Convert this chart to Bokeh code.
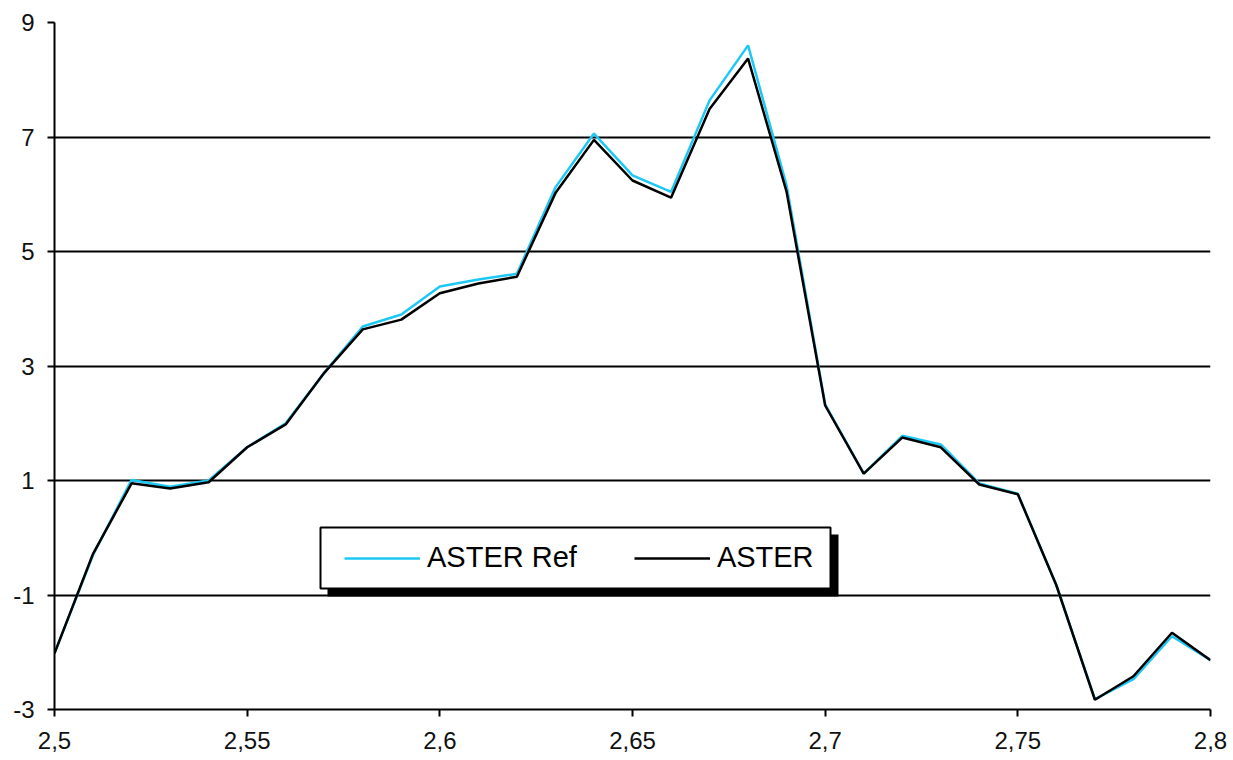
from bokeh.plotting import figure
from bokeh.models import Range1d, FixedTicker, Legend, LegendItem, BoxAnnotation
from bokeh.embed import file_html
from bokeh.resources import INLINE

wavelength = [2.50, 2.51, 2.52, 2.53, 2.54, 2.55, 2.56, 2.57, 2.58, 2.59, 2.60,
              2.61, 2.62, 2.63, 2.64, 2.65, 2.66, 2.67, 2.68, 2.69, 2.70,
              2.71, 2.72, 2.73, 2.74, 2.75, 2.76, 2.77, 2.78, 2.79, 2.80]
aster_ref = [-2.02, -0.30, 1.01, 0.89, 1.00, 1.58, 2.00, 2.88, 3.69, 3.90, 4.39,
             4.51, 4.61, 6.12, 7.06, 6.33, 6.04, 7.64, 8.60, 6.15, 2.33,
             1.12, 1.78, 1.63, 0.95, 0.77, -0.83, -2.82, -2.47, -1.72, -2.14]
aster = [-2.02, -0.28, 0.95, 0.86, 0.97, 1.58, 1.98, 2.88, 3.64, 3.81, 4.27,
         4.44, 4.56, 6.02, 6.95, 6.24, 5.94, 7.49, 8.37, 6.04, 2.31,
         1.12, 1.75, 1.58, 0.93, 0.76, -0.83, -2.83, -2.42, -1.66, -2.14]

x_ticks = [2.5, 2.55, 2.6, 2.65, 2.7, 2.75, 2.8]
x_tick_labels = ["2,5", "2,55", "2,6", "2,65", "2,7", "2,75", "2,8"]
y_ticks = [-3, -1, 1, 3, 5, 7, 9]
y_tick_labels = ["-3", "-1", "1", "3", "5", "7", "9"]
series_names = ["ASTER Ref", "ASTER"]
series_colors = ["#1EC8F5", "#000000"]

p = figure(frame_width=1156, frame_height=687, output_backend="svg",
           toolbar_location=None,
           x_range=Range1d(2.5, 2.8), y_range=Range1d(-3, 9),
           min_border_left=54, min_border_top=22, min_border_right=20,
           min_border_bottom=51)
p.outline_line_color = None
p.background_fill_color = "white"
p.border_fill_color = "white"

r_ref = p.line(wavelength, aster_ref, line_color=series_colors[0], line_width=2.5)
r_ast = p.line(wavelength, aster, line_color=series_colors[1], line_width=2.5)

p.xaxis.ticker = FixedTicker(ticks=x_ticks)
p.yaxis.ticker = FixedTicker(ticks=y_ticks)
p.xaxis.major_label_overrides = dict(zip(x_ticks, x_tick_labels))
p.yaxis.major_label_overrides = dict(zip(y_ticks, y_tick_labels))
for ax in (p.xaxis[0], p.yaxis[0]):
    ax.axis_line_color = "black"
    ax.axis_line_width = 2
    ax.major_tick_line_color = "black"
    ax.major_tick_line_width = 2
    ax.major_tick_out = 7
    ax.major_tick_in = 0
    ax.minor_tick_line_color = None
    ax.major_label_text_font = "Liberation Sans"
    ax.major_label_text_font_size = "24px"
    ax.major_label_text_color = "#111111"
p.xaxis.major_label_standoff = 15
p.yaxis.major_label_standoff = 13

p.xgrid.grid_line_color = None
p.ygrid.grid_line_color = "black"
p.ygrid.grid_line_width = 2

# legend frame: drop shadow + white box with black border
shadow = BoxAnnotation(left=273, right=784, bottom=113, top=175,
                       left_units="screen", right_units="screen",
                       top_units="screen", bottom_units="screen",
                       fill_color="black", fill_alpha=1.0, line_color=None,
                       level="annotation")
box = BoxAnnotation(left=266, right=776, bottom=121, top=182,
                    left_units="screen", right_units="screen",
                    top_units="screen", bottom_units="screen",
                    fill_color="white", fill_alpha=1.0, line_color="black",
                    line_width=2, line_alpha=1.0, level="annotation")
p.add_layout(shadow)
p.add_layout(box)

legend = Legend(items=[LegendItem(label=series_names[0], renderers=[r_ref]),
                       LegendItem(label=series_names[1], renderers=[r_ast])],
                location=(290, 135), orientation="horizontal",
                label_text_font="Liberation Sans", label_text_font_size="29px",
                label_text_color="black",
                glyph_width=76, glyph_height=20, label_standoff=7,
                spacing=57, padding=13, margin=0,
                border_line_color=None,
                background_fill_alpha=0.0)
p.add_layout(legend, "center")

open("out.html", "w").write(file_html(p, INLINE))
